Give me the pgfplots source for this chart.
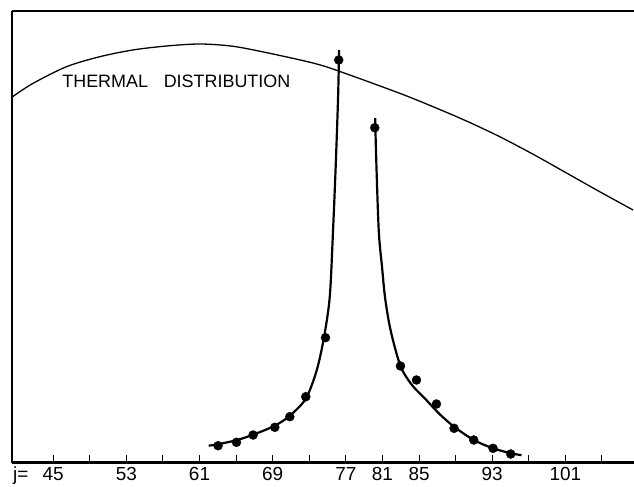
\documentclass[border=0pt]{standalone}
\usepackage{fontspec}
\setmainfont{Liberation Sans}
\usepackage{pgfplots}
\pgfplotsset{compat=1.18}
\usetikzlibrary{calc}

\begin{document}
\begin{tikzpicture}
\begin{axis}[
    scale only axis,
    width=622bp, height=451.7bp,
    xmin=40.5, xmax=108.5,
    ymin=0, ymax=451.7,
    axis x line=bottom, axis y line=left,
    axis line style={line width=2.6pt, -},
    xtick={45,49,...,105},
    xticklabels={\makebox[0pt][r]{j=\hspace{0.75em}}45,,53,,61,,69,,77,81,85,,93,,101,},
    xtick style={line width=1pt, black},
    major tick length=8bp,
    tick align=inside,
    ytick=\empty,
    xticklabel style={font=\fontsize{19}{20}\selectfont, yshift=-1bp},
    clip=false,
]
% thermal distribution
\addplot[black, line width=1.3pt, smooth, tension=0.5] coordinates {
  (40.56,366) (42.81,379.4) (46.46,396) (50.1,406) (53.7,412.7)
  (57.4,416.7) (61.03,418.7) (64.6,416.5) (68.36,410) (73.4,399.7)
  (76.2,391.7) (82.89,369.4) (86.53,356) (90.18,341.7)
  (93.82,326) (97.46,308.5) (101.1,289.8) (104.75,271) (108.4,252.7)
};
% left branch fit
\addplot[black, line width=2.2pt, smooth, tension=0.5] coordinates {
  (62.0,17) (63.03,18.5) (65.04,22.5) (66.86,28) (69.23,37) (70.87,47)
  (72.62,64) (73.8,92) (74.6,125) (75.24,166) (75.6,232.7) (75.9,299.4)
  (76.15,366) (76.26,412.7)
};
% right branch fit
\addplot[black, line width=2.2pt, smooth, tension=0.5] coordinates {
  (80.2,344.7) (80.34,297) (80.6,231) (80.95,196) (81.3,164) (81.9,132)
  (82.97,96.7) (84.2,78) (85.62,64.4) (87.2,49) (88.83,36) (90.98,22.7)
  (93.09,14.4) (95.02,9.5) (96.2,7.5)
};
% measured points
\addplot[only marks, mark=*, mark size=4.5bp, black] coordinates {
  (76.22,402.7) (74.77,125) (72.62,66) (70.87,46) (69.23,35.4)
  (66.86,27.7) (65.04,20.4) (63.03,17)
};
\addplot[only marks, mark=*, mark size=4.5bp, black] coordinates {
  (80.16,335) (82.97,96.7) (84.72,82.7) (86.9,58.7) (88.83,34.4)
  (90.98,22.7) (93.09,14.4) (95.02,8.7)
};
\node[anchor=base west, font=\fontsize{18}{20}\selectfont] at (axis cs:45.62,374.7) {THERMAL\hspace{0.6em} DISTRIBUTION};
\draw[line width=2.6pt] (rel axis cs:0,1) -- (rel axis cs:1,1);
\coordinate (A) at (rel axis cs:0,0);
\coordinate (B) at (rel axis cs:1,1);
\end{axis}
\pgfresetboundingbox
\path ($(A)+(-12bp,-23.3bp)$) rectangle ($(B)+(0,11bp)$);
\end{tikzpicture}
\end{document}
